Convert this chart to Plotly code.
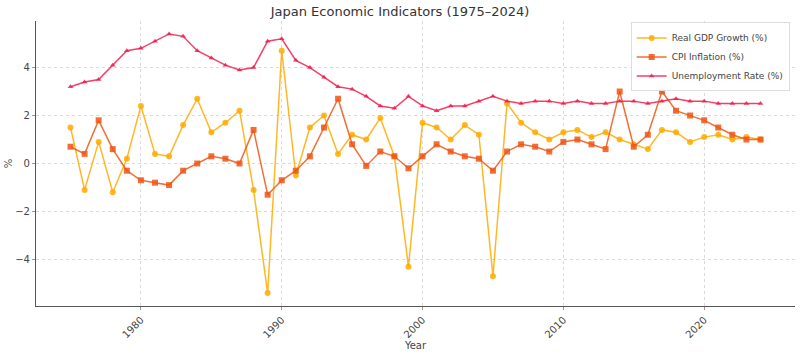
import plotly.graph_objects as go

years = list(range(1975, 2025))

gdp_growth = [1.5, -1.1, 0.9, -1.2, 0.2, 2.4, 0.4, 0.3, 1.6, 2.7,
              1.3, 1.7, 2.2, -1.1, -5.4, 4.7, -0.5, 1.5, 2.0, 0.4,
              1.2, 1.0, 1.9, 0.3, -4.3, 1.7, 1.5, 1.0, 1.6, 1.2,
              -4.7, 2.5, 1.7, 1.3, 1.0, 1.3, 1.4, 1.1, 1.3, 1.0,
              0.8, 0.6, 1.4, 1.3, 0.9, 1.1, 1.2, 1.0, 1.1, 1.0]

cpi_inflation = [0.7, 0.4, 1.8, 0.6, -0.3, -0.7, -0.8, -0.9, -0.3, 0.0,
                 0.3, 0.2, 0.0, 1.4, -1.3, -0.7, -0.3, 0.3, 1.5, 2.7,
                 0.8, -0.1, 0.5, 0.3, -0.2, 0.3, 0.8, 0.5, 0.3, 0.2,
                 -0.3, 0.5, 0.8, 0.7, 0.5, 0.9, 1.0, 0.8, 0.6, 3.0,
                 0.7, 1.2, 3.0, 2.2, 2.0, 1.8, 1.5, 1.2, 1.0, 1.0]

unemployment = [3.2, 3.4, 3.5, 4.1, 4.7, 4.8, 5.1, 5.4, 5.3, 4.7,
                4.4, 4.1, 3.9, 4.0, 5.1, 5.2, 4.3, 4.0, 3.6, 3.2,
                3.1, 2.8, 2.4, 2.3, 2.8, 2.4, 2.2, 2.4, 2.4, 2.6,
                2.8, 2.6, 2.5, 2.6, 2.6, 2.5, 2.6, 2.5, 2.5, 2.6,
                2.6, 2.5, 2.6, 2.7, 2.6, 2.6, 2.5, 2.5, 2.5, 2.5]

series_names = ["Real GDP Growth (%)", "CPI Inflation (%)", "Unemployment Rate (%)"]
x_ticks = [1980, 1990, 2000, 2010, 2020]
y_ticks = [-4, -2, 0, 2, 4]
y_tick_labels = ["\u22124", "\u22122", "0", "2", "4"]

colors = ["rgba(255,170,0,0.85)", "rgba(240,85,20,0.85)", "rgba(240,30,75,0.85)"]
symbols = ["circle", "square", "triangle-up"]
sizes = [6, 6, 5]

fig = go.Figure()
for name, vals, c, s, sz in zip(series_names, [gdp_growth, cpi_inflation, unemployment], colors, symbols, sizes):
    fig.add_trace(go.Scatter(
        x=years, y=vals, name=name, mode="lines+markers",
        line=dict(color=c, width=1.5),
        marker=dict(color=c, symbol=s, size=sz, line=dict(width=0)),
    ))

axis_common = dict(
    showgrid=True, gridcolor="rgba(205,205,205,0.75)", griddash="dot", gridwidth=1,
    zeroline=False, showline=True, linecolor="#555555", linewidth=1.2,
    ticks="outside", ticklen=3, tickcolor="#999999",
    tickfont=dict(family="DejaVu Sans", size=10, color="#444444"),
)

fig.update_layout(
    width=800, height=354,
    margin=dict(l=36, r=5, t=21, b=46),
    paper_bgcolor="white", plot_bgcolor="white",
    title=dict(text="Japan Economic Indicators (1975\u20132024)", x=0.5, xanchor="center",
               y=0.98, yanchor="top",
               font=dict(family="DejaVu Sans", size=13, color="#333333")),
    xaxis=dict(range=[1972.55, 2026.45], tickvals=x_ticks, tickangle=-45,
               title=dict(text="Year", font=dict(family="DejaVu Sans", size=10, color="#444444"), standoff=2),
               **axis_common),
    yaxis=dict(range=[-5.94, 5.94], tickvals=y_ticks, ticktext=y_tick_labels,
               title=dict(text="%", font=dict(family="DejaVu Sans", size=10, color="#444444"), standoff=0),
               **axis_common),
    legend=dict(x=0.993, y=0.995, xanchor="right", yanchor="top",
                bgcolor="rgba(255,255,255,0.9)", bordercolor="#dddddd", borderwidth=1,
                font=dict(family="DejaVu Sans", size=9, color="#444444"),
                tracegroupgap=0, itemwidth=30),
    showlegend=True,
)

fig.write_html("out.html")
